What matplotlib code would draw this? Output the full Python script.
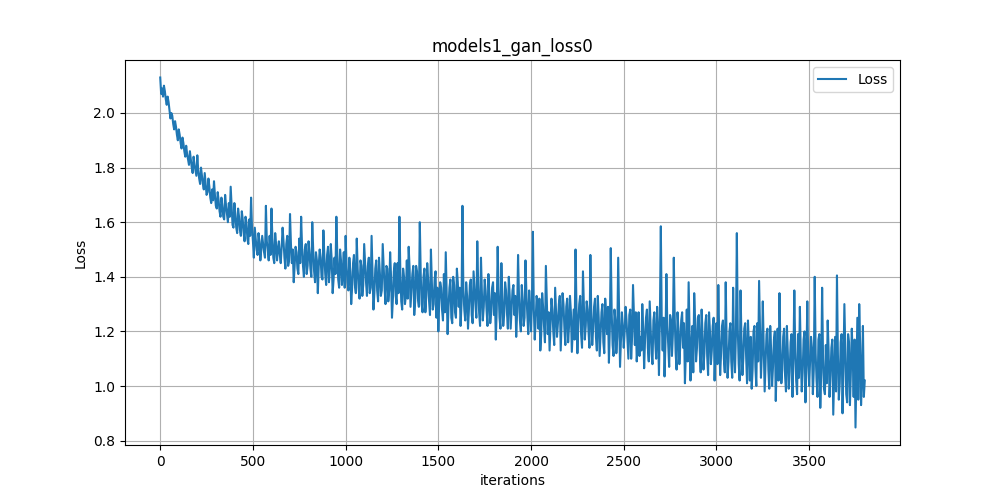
import numpy as np
import matplotlib
matplotlib.use("Agg")
import matplotlib.pyplot as plt

# loss, one value every 10 iterations (0, 10, 20, ...)
loss_0000 = [2.13, 2.09, 2.10, 2.05, 2.06, 2.01, 2.00, 1.96, 1.97, 1.92,
             1.94, 1.89, 1.91, 1.86, 1.88, 1.83, 1.86, 1.80, 1.84, 1.79,
             1.845, 1.76, 1.80, 1.74, 1.78, 1.70, 1.76, 1.69, 1.72, 1.75,
             1.66, 1.71, 1.64, 1.69, 1.62, 1.70, 1.63, 1.67, 1.73, 1.59,
             1.67, 1.58, 1.65, 1.57, 1.64, 1.56, 1.62, 1.54, 1.61, 1.69]
loss_0500 = [1.53, 1.58, 1.50, 1.56, 1.46, 1.55, 1.49, 1.66, 1.50, 1.55,
             1.65, 1.47, 1.56, 1.46, 1.53, 1.45, 1.58, 1.47, 1.52, 1.44,
             1.63, 1.45, 1.38, 1.51, 1.43, 1.54, 1.62, 1.44, 1.50, 1.41,
             1.53, 1.43, 1.60, 1.42, 1.49, 1.34, 1.50, 1.40, 1.57, 1.41,
             1.48, 1.38, 1.52, 1.34, 1.47, 1.62, 1.39, 1.50, 1.37, 1.49]
loss_1000 = [1.55, 1.38, 1.47, 1.30, 1.45, 1.37, 1.54, 1.36, 1.46, 1.33,
             1.52, 1.38, 1.44, 1.34, 1.55, 1.28, 1.43, 1.35, 1.47, 1.33,
             1.52, 1.36, 1.44, 1.31, 1.49, 1.25, 1.42, 1.33, 1.45, 1.62,
             1.31, 1.43, 1.30, 1.46, 1.51, 1.29, 1.41, 1.26, 1.44, 1.32,
             1.60, 1.30, 1.40, 1.27, 1.45, 1.31, 1.50, 1.28, 1.39, 1.25]
loss_1500 = [1.20, 1.38, 1.28, 1.41, 1.49, 1.19, 1.36, 1.25, 1.40, 1.27,
             1.43, 1.29, 1.22, 1.66, 1.28, 1.38, 1.21, 1.37, 1.26, 1.42,
             1.30, 1.53, 1.27, 1.47, 1.24, 1.39, 1.28, 1.41, 1.23, 1.36,
             1.26, 1.17, 1.51, 1.25, 1.45, 1.22, 1.38, 1.27, 1.40, 1.21,
             1.35, 1.26, 1.18, 1.48, 1.24, 1.37, 1.22, 1.46, 1.26, 1.35]
loss_2000 = [1.20, 1.565, 1.17, 1.33, 1.21, 1.13, 1.34, 1.22, 1.44, 1.19,
             1.13, 1.32, 1.20, 1.36, 1.18, 1.30, 1.13, 1.34, 1.21, 1.29,
             1.16, 1.33, 1.125, 1.28, 1.50, 1.12, 1.30, 1.19, 1.42, 1.17,
             1.31, 1.20, 1.48, 1.15, 1.29, 1.18, 1.33, 1.11, 1.27, 1.16,
             1.32, 1.19, 1.085, 1.505, 1.15, 1.28, 1.12, 1.47, 1.07, 1.27]
loss_2500 = [1.14, 1.29, 1.17, 1.26, 1.10, 1.37, 1.15, 1.09, 1.27, 1.18,
             1.30, 1.065, 1.25, 1.14, 1.31, 1.12, 1.24, 1.16, 1.29, 1.04,
             1.585, 1.13, 1.035, 1.41, 1.15, 1.26, 1.11, 1.47, 1.12, 1.27,
             1.08, 1.24, 1.14, 1.01, 1.28, 1.38, 1.02, 1.22, 1.34, 1.09,
             1.25, 1.13, 1.28, 1.06, 1.23, 1.11, 1.27, 1.08, 1.22, 1.02]
loss_3000 = [1.23, 1.37, 1.04, 1.22, 1.10, 1.38, 1.03, 1.20, 1.09, 1.36,
             1.05, 1.56, 1.08, 1.35, 1.04, 1.21, 1.11, 1.24, 1.02, 0.99,
             1.20, 1.07, 1.23, 1.385, 1.03, 1.31, 0.98, 1.19, 1.06, 1.22,
             1.00, 1.17, 0.945, 1.21, 1.34, 1.01, 1.18, 1.04, 1.22, 0.99,
             1.16, 0.96, 1.35, 1.02, 1.19, 1.29, 0.98, 1.17, 0.94, 1.31]
loss_3500 = [1.00, 1.18, 0.97, 1.40, 1.02, 1.17, 0.92, 1.36, 0.99, 1.15,
             1.24, 0.96, 1.14, 0.895, 1.18, 1.405, 0.95, 1.16, 0.90, 1.30,
             0.97, 1.19, 0.93, 1.21, 0.96, 0.848, 1.25, 1.30, 0.93, 1.22,
             1.02]

mid_0000 = [2.07, 2.06, 2.08, 2.03, 2.04, 1.98, 1.99, 1.94, 1.95, 1.90,
            1.92, 1.87, 1.89, 1.84, 1.85, 1.81, 1.83, 1.78, 1.81, 1.77,
            1.79, 1.74, 1.77, 1.72, 1.74, 1.71, 1.73, 1.67, 1.68, 1.70,
            1.65, 1.68, 1.62, 1.66, 1.61, 1.66, 1.60, 1.62, 1.66, 1.58,
            1.63, 1.56, 1.62, 1.55, 1.61, 1.53, 1.60, 1.52, 1.55, 1.58]
mid_0500 = [1.47, 1.54, 1.48, 1.53, 1.50, 1.52, 1.47, 1.53, 1.46, 1.48,
            1.54, 1.45, 1.52, 1.50, 1.48, 1.51, 1.53, 1.43, 1.55, 1.46,
            1.52, 1.50, 1.44, 1.49, 1.41, 1.45, 1.51, 1.40, 1.52, 1.44,
            1.49, 1.40, 1.50, 1.38, 1.46, 1.44, 1.47, 1.39, 1.48, 1.37,
            1.51, 1.43, 1.46, 1.39, 1.41, 1.48, 1.36, 1.46, 1.42, 1.36]
mid_1000 = [1.44, 1.35, 1.42, 1.36, 1.48, 1.34, 1.43, 1.32, 1.44, 1.37,
            1.45, 1.33, 1.47, 1.36, 1.42, 1.34, 1.46, 1.31, 1.41, 1.35,
            1.44, 1.30, 1.43, 1.35, 1.40, 1.32, 1.45, 1.30, 1.34, 1.42,
            1.28, 1.40, 1.33, 1.32, 1.43, 1.35, 1.44, 1.31, 1.42, 1.29,
            1.41, 1.27, 1.43, 1.33, 1.39, 1.26, 1.38, 1.30, 1.42, 1.36]
mid_1500 = [1.31, 1.36, 1.24, 1.27, 1.34, 1.29, 1.39, 1.23, 1.37, 1.25,
            1.38, 1.36, 1.30, 1.35, 1.24, 1.33, 1.28, 1.39, 1.23, 1.36,
            1.25, 1.37, 1.22, 1.34, 1.29, 1.35, 1.22, 1.33, 1.27, 1.38,
            1.34, 1.28, 1.35, 1.21, 1.32, 1.26, 1.35, 1.21, 1.33, 1.28,
            1.37, 1.33, 1.27, 1.33, 1.20, 1.31, 1.25, 1.34, 1.19, 1.29]
mid_2000 = [1.31, 1.28, 1.24, 1.30, 1.32, 1.19, 1.29, 1.16, 1.31, 1.27,
            1.22, 1.28, 1.15, 1.27, 1.23, 1.33, 1.24, 1.30, 1.15, 1.32,
            1.22, 1.27, 1.20, 1.17, 1.29, 1.23, 1.33, 1.14, 1.30, 1.22,
            1.28, 1.14, 1.26, 1.21, 1.32, 1.13, 1.25, 1.19, 1.30, 1.12,
            1.26, 1.29, 1.21, 1.27, 1.11, 1.24, 1.18, 1.26, 1.17, 1.22]
mid_2500 = [1.20, 1.24, 1.10, 1.28, 1.18, 1.26, 1.27, 1.15, 1.11, 1.13,
            1.21, 1.17, 1.28, 1.09, 1.22, 1.08, 1.27, 1.10, 1.20, 1.26,
            1.23, 1.25, 1.16, 1.22, 1.07, 1.24, 1.19, 1.25, 1.06, 1.21,
            1.15, 1.27, 1.23, 1.12, 1.09, 1.20, 1.15, 1.05, 1.24, 1.14,
            1.26, 1.05, 1.19, 1.12, 1.26, 1.04, 1.20, 1.13, 1.25, 1.14]
mid_3000 = [1.08, 1.18, 1.12, 1.24, 1.05, 1.16, 1.09, 1.23, 1.03, 1.14,
            1.19, 1.21, 1.02, 1.17, 1.10, 1.23, 1.01, 1.15, 1.18, 1.06,
            1.22, 1.00, 1.09, 1.20, 1.12, 1.15, 1.08, 1.21, 0.99, 1.13,
            1.07, 1.20, 1.09, 1.02, 1.14, 1.06, 1.21, 0.98, 1.12, 1.05,
            1.19, 1.10, 1.13, 0.97, 1.03, 1.11, 1.05, 1.20, 1.08, 1.10]
mid_3500 = [1.09, 1.14, 1.06, 1.12, 0.96, 1.19, 1.05, 1.10, 0.97, 1.01,
            1.13, 1.04, 1.17, 1.03, 0.98, 1.12, 1.01, 1.19, 1.07, 1.14,
            0.94, 1.16, 1.05, 1.11, 1.17, 1.04, 0.95, 1.15, 1.03, 0.96]

loss = loss_0000 + loss_0500 + loss_1000 + loss_1500 + loss_2000 + loss_2500 + loss_3000 + loss_3500
loss_mid = mid_0000 + mid_0500 + mid_1000 + mid_1500 + mid_2000 + mid_2500 + mid_3000 + mid_3500

x_all = np.concatenate([np.arange(len(loss)) * 10, np.arange(len(loss_mid)) * 10 + 5])
y_all = np.concatenate([loss, loss_mid])
order = np.argsort(x_all)
iterations = x_all[order]
values = y_all[order]

fig, ax = plt.subplots(figsize=(10, 5), dpi=100)
ax.plot(iterations, values, label="Loss")
ax.set_title("models1_gan_loss0")
ax.set_xlabel("iterations")
ax.set_ylabel("Loss")
ax.grid(True)
ax.legend(loc="upper right")
fig.savefig("out.png")
